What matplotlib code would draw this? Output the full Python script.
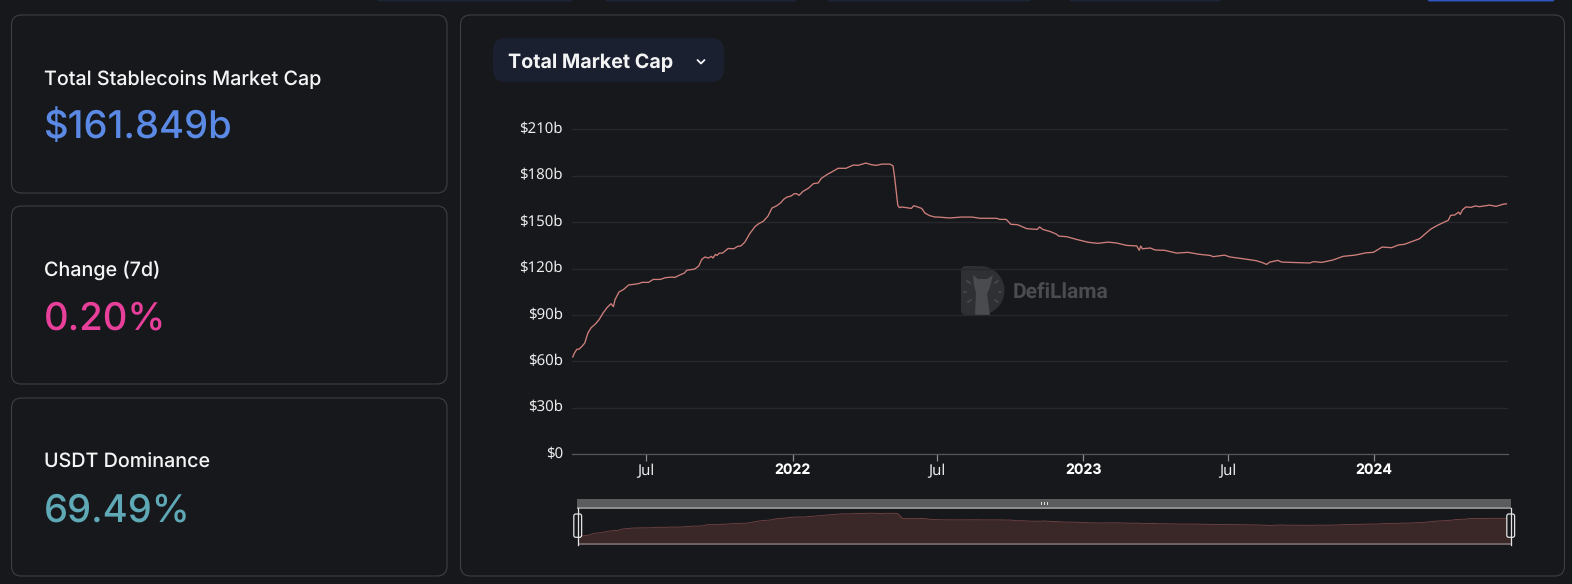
# ================== dependencias ============== #
import matplotlib
matplotlib.use("Agg")
import matplotlib.pyplot as plt
from matplotlib.patches import FancyBboxPatch, Wedge, Polygon, Rectangle
from matplotlib.transforms import ScaledTranslation
import numpy as np

plt.rcParams["text.hinting"] = "none"
plt.rcParams["text.hinting_factor"] = 1

W, H = 1572, 584

# ================== datos ============== #
REF_DATE = np.datetime64("2021-07-01")

# days counted from REF_DATE, total market cap in $b
DAYS = [-92, -90, -87, -84, -80, -77, -73, -69, -64, -59, -54, -49, -44, -41, -39, -34, -28, -22, -16, -10,
        -5, 3, 9, 18, 24, 32, 36, 43, 48, 51, 61, 66, 70, 74, 78, 82, 84, 87, 89, 92,
        96, 103, 110, 115, 119, 124, 130, 137, 142, 147, 153, 158, 164, 169, 173, 177, 182, 186, 189, 192,
        197, 204, 210, 216, 220, 227, 233, 241, 251, 260, 266, 276, 283, 289, 296, 306, 310, 312, 316, 318,
        321, 333, 336, 340, 346, 350, 356, 363, 367, 381, 396, 409, 419, 440, 444, 452, 458, 466, 478, 491,
        494, 498, 507, 515, 518, 528, 540, 555, 567, 580, 591, 603, 616, 619, 621, 623, 633, 639, 651, 666,
        680, 695, 708, 712, 726, 733, 749, 766, 774, 779, 783, 793, 798, 821, 833, 838, 848, 862, 875, 890,
        904, 913, 924, 936, 944, 952, 963, 971, 985, 994, 1003, 1007, 1010, 1015, 1020, 1022, 1025, 1029, 1036, 1041,
        1046, 1059, 1067, 1076, 1080]
MCAP = [62.9, 65.4, 67.8, 68.0, 70.0, 71.9, 78.4, 81.8, 84.0, 87.0, 91.3, 94.8, 97.3, 95.4, 99.9, 104.9, 106.6, 109.4, 109.8, 110.2,
        111.1, 111.1, 113.0, 113.0, 114.1, 114.5, 114.3, 116.0, 117.1, 118.9, 119.7, 121.6, 126.0, 127.5, 126.8, 127.9, 126.8, 129.2, 128.5, 130.0,
        130.0, 133.0, 132.8, 134.4, 134.6, 137.1, 142.5, 147.3, 149.2, 150.5, 153.9, 159.1, 160.6, 162.5, 164.9, 166.2, 166.9, 168.4, 168.4, 167.3,
        169.9, 172.0, 174.9, 175.3, 178.3, 180.7, 182.4, 184.8, 184.8, 186.9, 186.7, 188.2, 187.1, 186.7, 187.5, 187.5, 186.4, 179.0, 160.9, 159.4,
        159.8, 158.9, 160.6, 160.0, 158.9, 155.9, 154.2, 153.3, 153.3, 152.7, 153.3, 153.3, 152.5, 152.5, 151.8, 151.8, 148.6, 148.4, 145.8, 145.3,
        146.9, 145.3, 144.0, 142.3, 141.0, 140.6, 138.9, 137.0, 136.3, 137.1, 136.5, 135.0, 134.6, 131.8, 134.6, 132.8, 133.3, 132.0, 131.8, 130.0,
        130.5, 129.2, 128.5, 127.7, 128.7, 127.5, 126.4, 125.1, 123.8, 122.7, 124.2, 125.3, 124.2, 123.8, 123.6, 124.5, 124.0, 125.5, 127.9, 128.7,
        130.2, 130.5, 133.9, 133.5, 135.2, 135.7, 137.8, 139.3, 145.5, 148.1, 150.3, 151.2, 154.4, 154.6, 156.5, 155.0, 158.0, 159.8, 159.6, 160.5,
        160.0, 161.0, 160.2, 161.6, 161.85]

Y_TICKS = [0, 30, 60, 90, 120, 150, 180, 210]
Y_LABELS = ["$0", "$30b", "$60b", "$90b", "$120b", "$150b", "$180b", "$210b"]
X_TICKS = ["2021-07-01", "2022-01-01", "2022-07-01", "2023-01-01", "2023-07-01", "2024-01-01"]
X_LABELS = ["Jul", "2022", "Jul", "2023", "Jul", "2024"]

CARD_TITLES = ["Total Stablecoins Market Cap", "Change (7d)", "USDT Dominance"]
CARD_VALUES = ["$161.849b", "0.20%", "69.49%"]
CARD_COLORS = ["#5b8ae6", "#e8409a", "#5fa8b5"]

# ================== colores ============== #
BG = "#16181c"
BORDER = "#3e3f45"
GRID = "#26282d"
LINE = "#cf7f7b"
TEXT = "#f4f4f5"

dates = REF_DATE + np.array(DAYS).astype("timedelta64[D]")
tick_dates = np.array(X_TICKS, dtype="datetime64[D]")


def px_axes(fig, left, top, right, bottom):
    return fig.add_axes([left / W, 1 - bottom / H, (right - left) / W, (bottom - top) / H])


def round_box(ax, x0, y0, x1, y1, r, **kw):
    ax.add_patch(FancyBboxPatch((x0, y0), x1 - x0, y1 - y0,
                                boxstyle=f"round,pad=0,rounding_size={r}", **kw))


fig = plt.figure(figsize=(W / 100, H / 100), dpi=100, facecolor=BG)

# ================== fondo: tarjetas y botones ============== #
bg = fig.add_axes([0, 0, 1, 1])
bg.set_xlim(0, W)
bg.set_ylim(H, 0)
bg.axis("off")

for x0, x1 in [(377, 573), (605, 797), (827, 1031), (1069, 1222)]:
    round_box(bg, x0, -6, x1, 1.5, 3, fc="#1c2536", ec="none")
round_box(bg, 1427, -6, 1555, 1.5, 3, fc="#2f55c0", ec="none")

card_tops = [15, 206, 398]
card_bottoms = [193, 384, 576]
for i in range(3):
    round_box(bg, 11.5, card_tops[i], 447, card_bottoms[i], 10, fc="none", ec=BORDER, lw=0.8)
    bg.text(44, card_tops[i] + 70, CARD_TITLES[i], color=TEXT, fontsize=14.2, family="Inter",
            weight="medium", va="baseline", ha="left")
    bg.text(43.5, card_tops[i] + 123.3, CARD_VALUES[i], color=CARD_COLORS[i], fontsize=27.5, family="Inter",
            weight="medium", va="baseline", ha="left")

round_box(bg, 460.5, 15, 1564.5, 576, 10, fc="none", ec=BORDER, lw=0.8)

# desplegable
round_box(bg, 493, 38, 724, 82, 13, fc="#1a2030", ec="none")
bg.text(508, 67.5, "Total Market Cap", color=TEXT, fontsize=14.2, family="Inter", weight="bold",
        va="baseline", ha="left")
bg.plot([697.5, 701, 704.5], [60, 63.5, 60], color=TEXT, lw=1.3, solid_capstyle="round")

# ================== marca de agua ============== #
bg.add_patch(Wedge((980, 290.5), 24.5, -90, 90, fc="#2f3033", ec="none"))
round_box(bg, 961, 266, 982, 315, 5, fc="#2f3033", ec="none")
bg.add_patch(Polygon([(973, 275), (978, 279), (987, 279), (993, 275), (990, 287), (987, 294), (990, 315),
                      (975, 315), (976, 293), (974, 285)], closed=True, fc="#4a4b4e", ec="none"))
for x0, y0, x1, y1 in [(967, 281, 970, 283), (964, 292, 966, 292), (968, 302, 971, 300),
                       (995, 283, 998, 281), (999, 292, 1001, 292), (995, 300, 998, 302)]:
    bg.plot([x0, x1], [y0, y1], color="#4a4b4e", lw=1.1)
bg.text(1013, 293, "DefiLlama", color="#4b4c50", fontsize=15, family="Roboto", weight="bold",
        va="center", ha="left")

# ================== grafico principal ============== #
ax = px_axes(fig, 572, 129.3, 1508, 454.3)
ax.patch.set_alpha(0)
ax.plot(dates, MCAP, color=LINE, lw=0.95, solid_joinstyle="round")
ax.set_xlim(REF_DATE - np.timedelta64(93, "D"), REF_DATE + np.timedelta64(1082, "D"))
ax.set_ylim(0, 210)
ax.set_yticks(Y_TICKS)
ax.set_yticklabels(Y_LABELS, color="#ececec", fontsize=10.8, family="Noto Sans")
ax.set_xticks(tick_dates)
ax.set_xticklabels(X_LABELS, color="#ececec", fontsize=10.8, family="Noto Sans")
ax.tick_params(axis="y", length=0, pad=6.5)
ax.tick_params(axis="x", length=5, width=0.9, color="#8a8b90", pad=1.5)
# years are bold, Noto Sans has no bold cut here
for lab, name in zip(ax.get_xticklabels(), X_LABELS):
    if name != "Jul":
        lab.set_family("Inter")
        lab.set_fontweight("bold")
        lab.set_fontsize(10.2)
        lab.set_color("#ffffff")
# labels sit a little above their grid line, has to come after tick_params
nudge = ScaledTranslation(0, 2 / 100, fig.dpi_scale_trans)
for lab in ax.get_yticklabels():
    lab.set_transform(lab.get_transform() + nudge)
ax.grid(axis="y", color=GRID, lw=1)
ax.set_axisbelow(True)
for s in ["top", "right", "left"]:
    ax.spines[s].set_visible(False)
ax.spines["bottom"].set_color("#55565c")
ax.spines["bottom"].set_linewidth(0.9)

# ================== slider inferior ============== #
bg.add_patch(Rectangle((576.7, 499), 934.6, 8.6, fc="#5a5c5e", ec="none"))
bg.add_patch(Rectangle((576.7, 507.4), 934.6, 1.3, fc="#8c8d8f", ec="none"))
for x in [1040.5, 1043.5, 1046.5]:
    bg.add_patch(Rectangle((x, 501.5), 1.6, 3.5, fc="#d8d8d8", ec="none"))

mini = px_axes(fig, 577.5, 508, 1510.7, 544)
mini.patch.set_alpha(0)
mini.fill_between(DAYS, 24, MCAP, color="#3a2829", lw=0)
mini.plot(DAYS, MCAP, color="#6b3f3f", lw=0.7)
mini.set_xlim(DAYS[0], DAYS[-1])
mini.set_ylim(24, 216)
mini.axis("off")

bg2 = fig.add_axes([0, 0, 1, 1])
bg2.set_xlim(0, W)
bg2.set_ylim(H, 0)
bg2.axis("off")
bg2.patch.set_alpha(0)
bg2.add_patch(Rectangle((577.5, 543.2), 933.2, 1.5, fc="#6e6264", ec="none"))
for xc in [577.7, 1510.7]:
    bg2.plot([xc, xc], [508, 545], color="#e4e4e4", lw=0.9)
    round_box(bg2, xc - 3.9, 514, xc + 3.9, 537.3, 2, fc=BG, ec="#e4e4e4", lw=0.9)

fig.savefig("out.png", dpi=100, facecolor=BG)
